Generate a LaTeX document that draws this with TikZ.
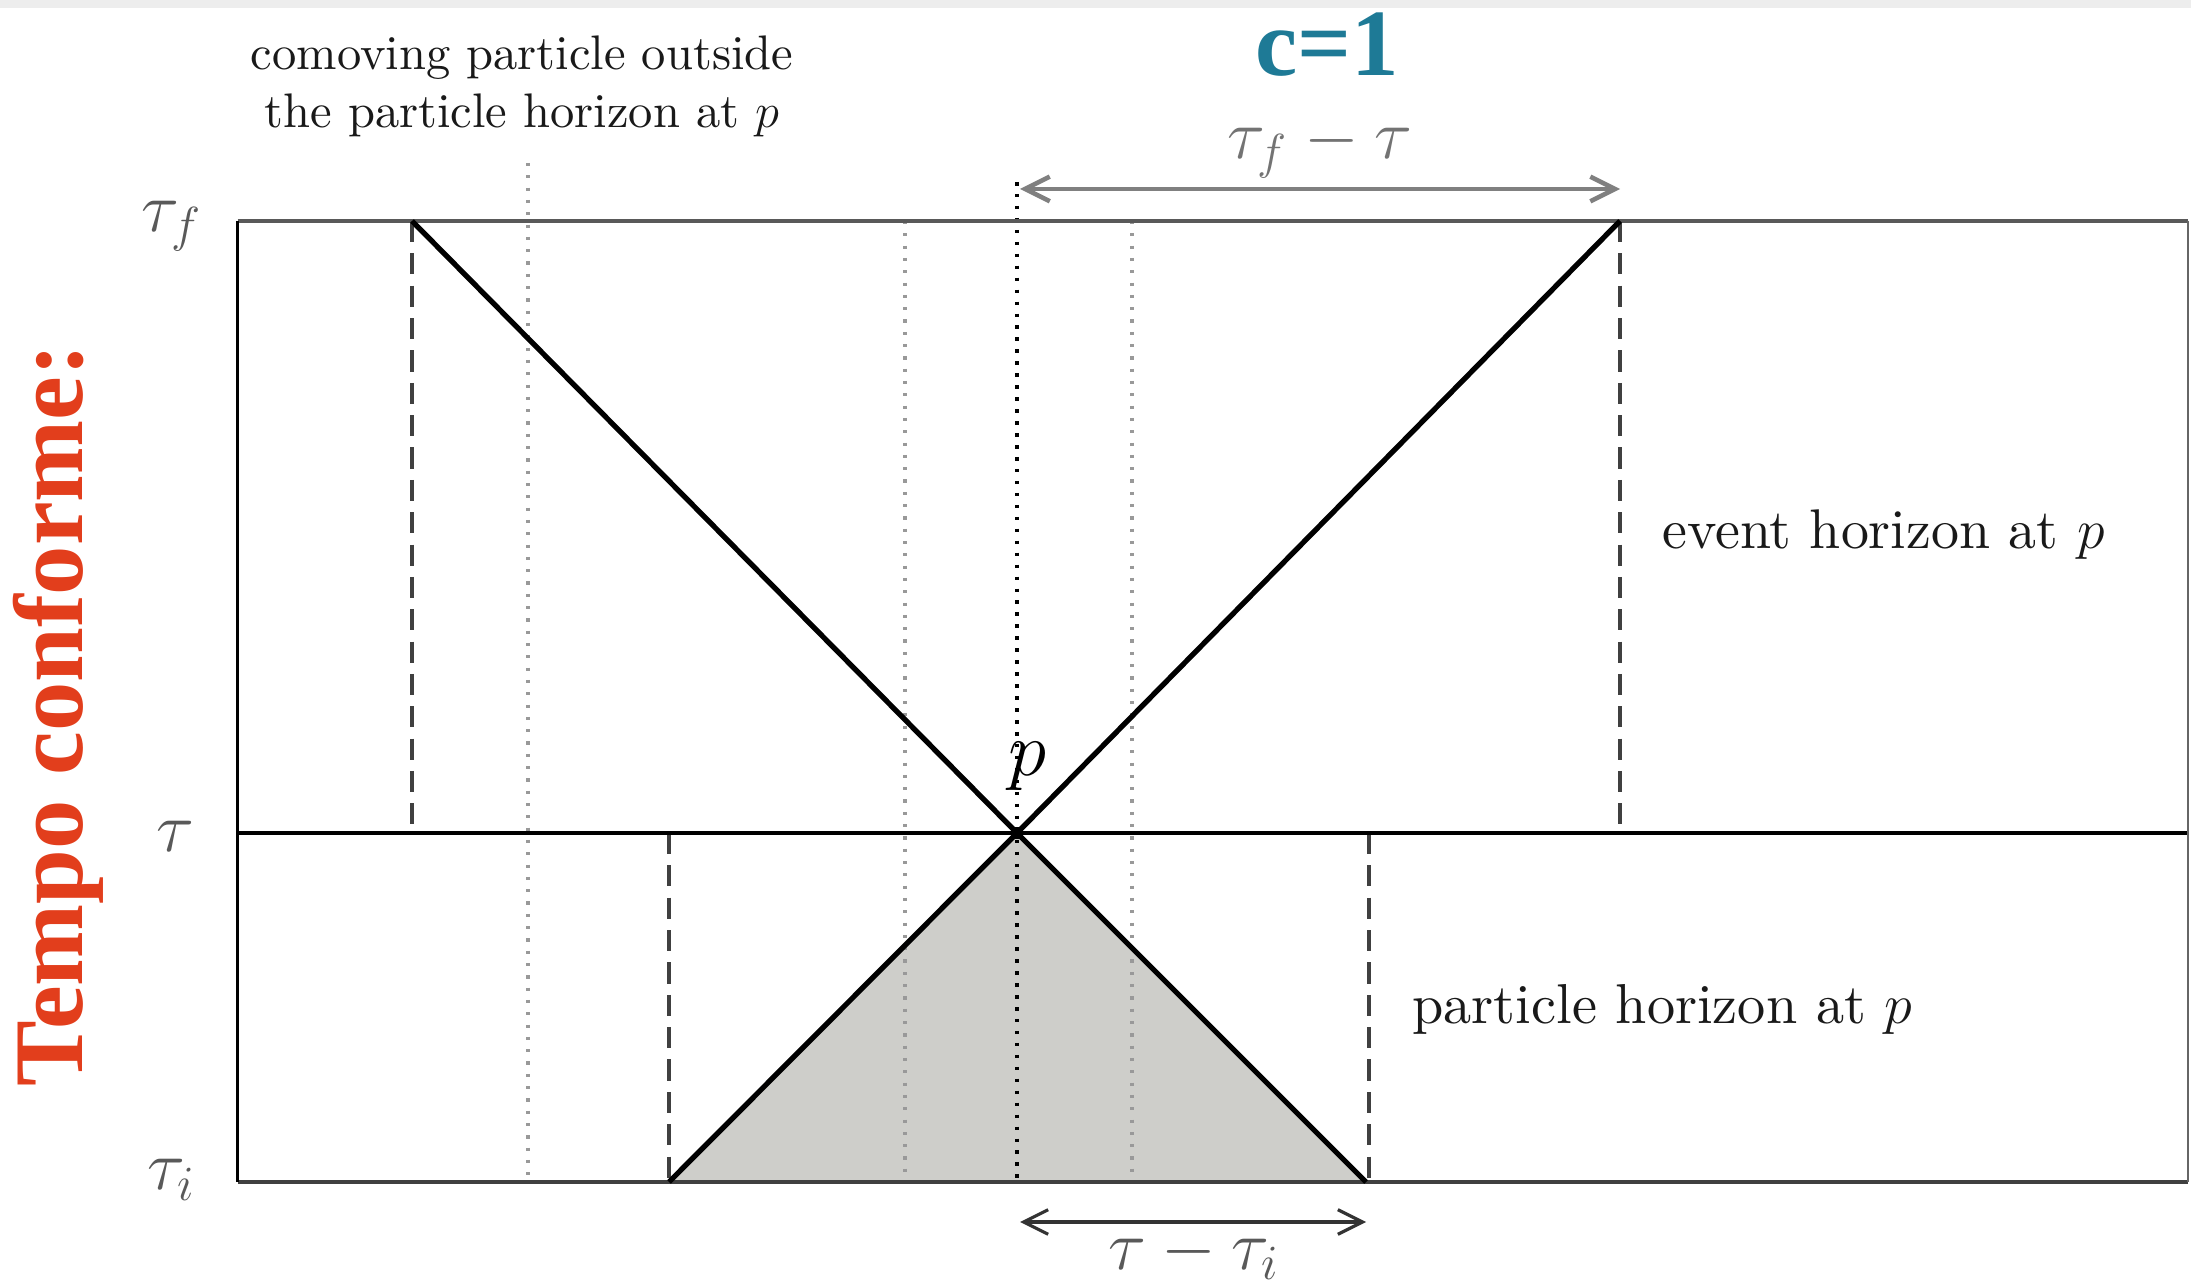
\RequirePackage{fix-cm}
\documentclass[tikz,border=0pt]{standalone}
\usepackage{fontspec}
\setmainfont{lmroman10-regular.otf}[ItalicFont=lmroman10-italic.otf, BoldFont=lmroman10-bold.otf]
\newfontfamily\slidefont{Liberation Serif}
\usetikzlibrary{arrows.meta}

\definecolor{slideteal}{RGB}{30,122,150}
\definecolor{slidered}{RGB}{226,62,28}
\definecolor{conegray}{RGB}{206,206,202}

\tikzset{
  horizon/.style={line width=1.1pt, black!75, dash pattern=on 6pt off 3.2pt},
  worldline/.style={line width=0.9pt, black!40, dash pattern=on 0.9pt off 2.6pt},
  obsline/.style={line width=1pt, black, dash pattern=on 1pt off 2.4pt},
  lightcone/.style={line width=1.5pt, black},
  interval/.style={line width=0.9pt, {Straight Barb[length=7pt,width=7pt]}-{Straight Barb[length=7pt,width=7pt]}},
  lbl/.style={font=\fontsize{13.8}{16.5}\selectfont, text=black!90},
  tlbl/.style={font=\fontsize{20}{24}\selectfont, text=black!65, inner sep=0.5pt}
}

\begin{document}
\begin{tikzpicture}[x=0.01cm,y=-0.01cm]
\useasboundingbox (0,0) rectangle (2191,1286);

% ===== Points =====
\coordinate (p)  at (1017,833);
\coordinate (ul) at (412,221);
\coordinate (ur) at (1620,221);
\coordinate (ll) at (669,1182);
\coordinate (lr) at (1366,1182);
\coordinate (tl) at (237.5,221);
\coordinate (tr) at (2188,221);
\coordinate (ml) at (237.5,833);
\coordinate (mr) at (2188,833);
\coordinate (bl) at (237.5,1182);
\coordinate (br) at (2188,1182);

% ===== Top strip =====
\fill[black!7] (0,0) rectangle (2191,8);

% ===== Past light cone =====
\fill[conegray] (ll) -- (p) -- (lr) -- cycle;

% ===== Comoving worldlines =====
\draw[worldline] (528,163) -- (528,1182);
\foreach \x in {905,1132} {
    \draw[worldline] (\x,221) -- (\x,1182);
}
\draw[obsline] (1017,182) -- (1017,1182);

% ===== Horizons =====
\draw[horizon] (ul) -- (ul |- p);
\draw[horizon] (ur) -- (ur |- p);
\draw[horizon] (ll |- p) -- (ll);
\draw[horizon] (1369,833) -- (1369,1182);

% ===== Time slices =====
\draw[line width=1pt, black!65] (tl) -- (tr);
\draw[line width=1pt, black] (ml) -- (mr);
\draw[line width=1pt, black!75] (bl) -- (br);
\draw[line width=1pt, black] (tl) -- (bl);
\draw[line width=0.8pt, black!60] (tr) -- (br);

% ===== Light cones =====
\draw[lightcone] (ul) -- (p) -- (ur);
\draw[lightcone] (ll) -- (p) -- (lr);
\fill[black] (1011,827) rectangle (1023,839);
\node[font=\fontsize{22}{26}\selectfont] (plbl) at (1027,766) {$p$};

% ===== Intervals =====
\coordinate (fa) at (1020,189);
\coordinate (fb) at (1620,189);
\coordinate (ia) at (1020,1222);
\coordinate (ib) at (1366,1222);
\draw[interval, black!50, line width=1.3pt] (fa) -- (fb);
\draw[interval, black!80] (ia) -- (ib);
\node[tlbl, text=black!55] (dtf) at (1320,148) {$\tau_f-\tau$};
\node[tlbl] (dti) at (1194,1254) {$\tau-\tau_i$};

% ===== Time labels =====
\node[tlbl] (tf)  at (172,226) {$\tau_f$};
\node[tlbl] (tau) at (175,836) {$\tau$};
\node[tlbl] (ti)  at (172,1180) {$\tau_i$};

% ===== Texts =====
\node[lbl, align=center] (como) at (522,86) {comoving particle outside\\ the particle horizon at $p$};
\node[lbl, anchor=west, font=\fontsize{15.9}{19}\selectfont] (evh) at (1650,535) {event horizon at $p$};
\node[lbl, anchor=west, font=\fontsize{16}{19}\selectfont] (pah) at (1400,1009) {particle horizon at $p$};

\node[anchor=base, inner sep=0pt, text depth=0pt, text=slideteal, font=\slidefont\bfseries\fontsize{27}{30}\selectfont] (clight) at (1327,76) {c=1};
\node[rotate=90, text=slidered, font=\slidefont\bfseries\fontsize{28}{32}\selectfont] (tempo) at (58,715) {Tempo conforme:};

\end{tikzpicture}
\end{document}
